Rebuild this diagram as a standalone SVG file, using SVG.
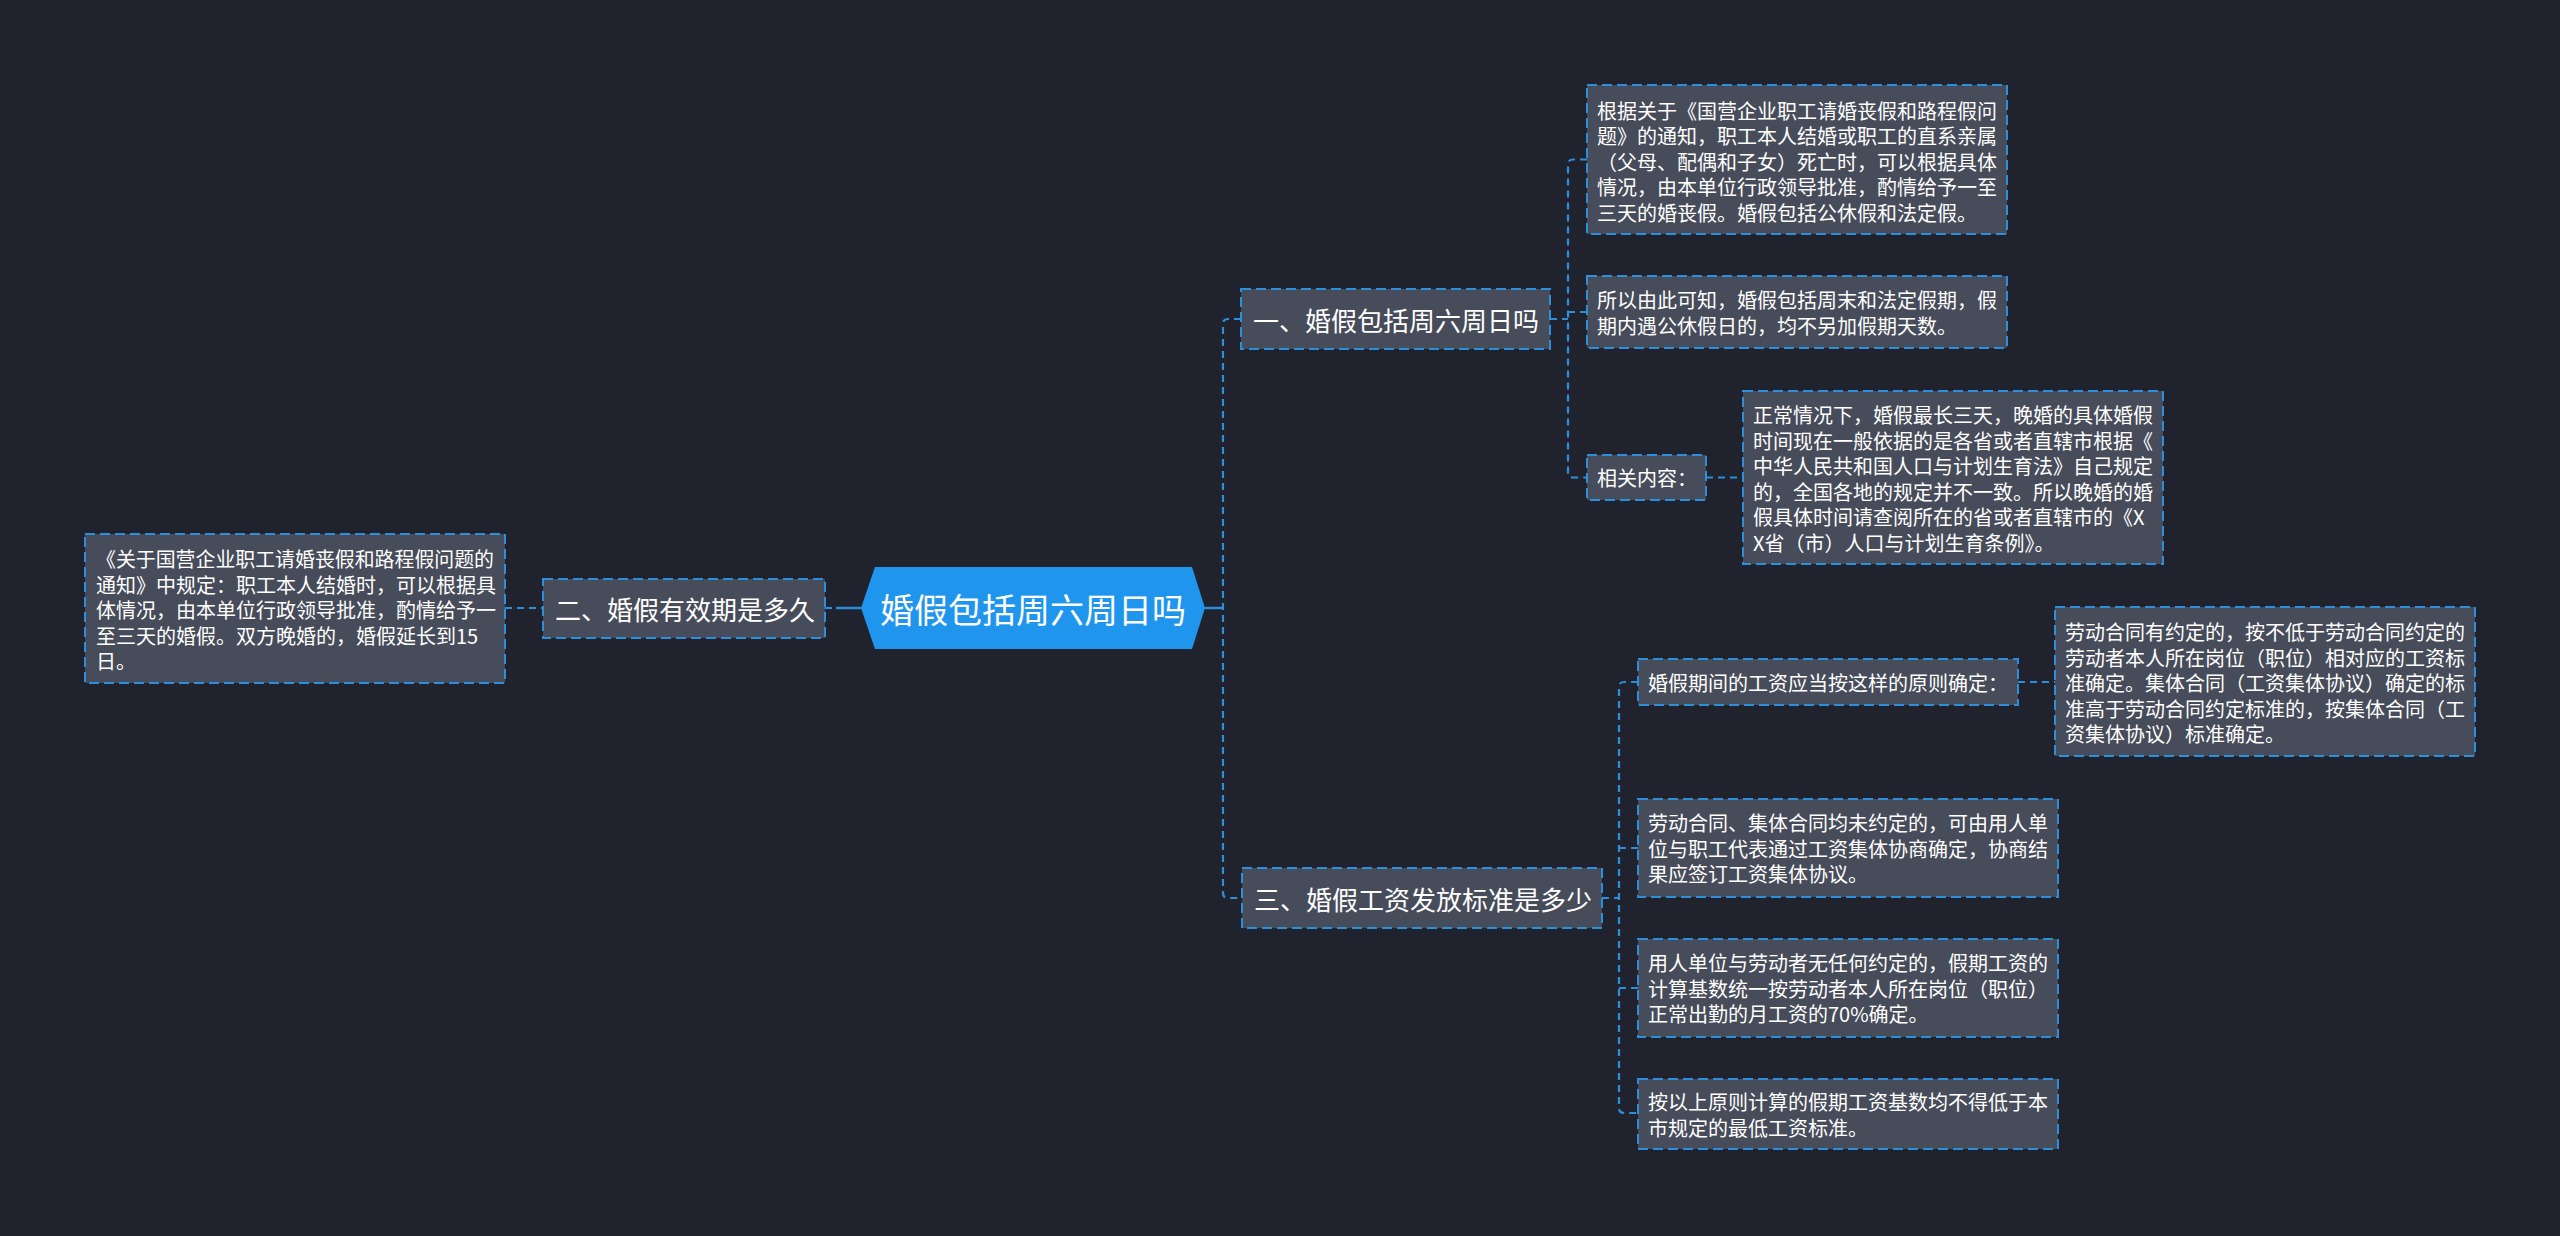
<svg xmlns="http://www.w3.org/2000/svg" width="2560" height="1236" viewBox="0 0 2560 1236">
<style>
.bg{fill:#20232e}
.box{fill:#474c5a;stroke:#2b8fdc;stroke-width:2;stroke-dasharray:10 5}
.conn{fill:none;stroke:#2b8fdc;stroke-width:2.2;stroke-dasharray:7 5}
.solid{fill:none;stroke:#2b8fdc;stroke-width:2.5}
.t{font-family:"Noto Sans CJK SC","Noto Sans",sans-serif;fill:#ffffff;dominant-baseline:central}
.leaf{font-size:20px}
.br{font-size:26px}
.root{font-size:34px}
</style>
<rect class="bg" x="0" y="0" width="2560" height="1236"/>

<g id="connectors">
  <path class="solid" d="M1205,608 L1223,608"/>
  <path class="conn" d="M1241,319 L1228,319 Q1223,319 1223,324 L1223,893 Q1223,898 1228,898 L1242,898"/>
  <path class="conn" d="M1550,319 L1568,319"/>
  <path class="conn" d="M1587,159.5 L1573,159.5 Q1568,159.5 1568,164.5 L1568,472.5 Q1568,477.5 1573,477.5 L1587,477.5"/>
  <path class="conn" d="M1568,312 L1587,312"/>
  <path class="conn" d="M1706,477.5 L1743,477.5"/>
  <path class="conn" d="M1602,898 L1619,898"/>
  <path class="conn" d="M1638,682 L1624,682 Q1619,682 1619,687 L1619,1108 Q1619,1113 1624,1113 L1638,1113"/>
  <path class="conn" d="M1619,848 L1638,848"/>
  <path class="conn" d="M1619,988 L1638,988"/>
  <path class="conn" d="M2018,682 L2055,682"/>
  <path class="conn" d="M505,608 L543,608"/>
  <path class="conn" d="M825,608 L836,608"/>
  <path class="solid" d="M836,608 L861,608"/>
</g>

<g id="root">
  <polygon points="861,608 875,567 1192,567 1205,608 1192,649 875,649" fill="#1f95ee"/>
  <text class="t root" x="1033" y="608" text-anchor="middle">婚假包括周六周日吗</text>
</g>

<g id="branch1">
  <rect class="box" x="1241" y="289" width="309" height="60"/>
  <text class="t br" x="1253" y="319">一、婚假包括周六周日吗</text>
</g>

<g id="branch2">
  <rect class="box" x="543" y="579" width="282" height="59"/>
  <text class="t br" x="555" y="608">二、婚假有效期是多久</text>
</g>

<g id="branch3">
  <rect class="box" x="1242" y="868" width="360" height="60"/>
  <text class="t br" x="1254" y="898">三、婚假工资发放标准是多少</text>
</g>

<g id="leafA">
  <rect class="box" x="1587" y="85" width="420" height="149"/>
  <text class="t leaf" x="1597" y="110">根据关于《国营企业职工请婚丧假和路程假问</text>
  <text class="t leaf" x="1597" y="135.5">题》的通知，职工本人结婚或职工的直系亲属</text>
  <text class="t leaf" x="1597" y="161">（父母、配偶和子女）死亡时，可以根据具体</text>
  <text class="t leaf" x="1597" y="186.5">情况，由本单位行政领导批准，酌情给予一至</text>
  <text class="t leaf" x="1597" y="212">三天的婚丧假。婚假包括公休假和法定假。</text>
</g>

<g id="leafB">
  <rect class="box" x="1587" y="276" width="420" height="72"/>
  <text class="t leaf" x="1597" y="299.5">所以由此可知，婚假包括周末和法定假期，假</text>
  <text class="t leaf" x="1597" y="325">期内遇公休假日的，均不另加假期天数。</text>
</g>

<g id="related">
  <rect class="box" x="1587" y="455" width="119" height="45"/>
  <text class="t leaf" x="1597" y="477.5">相关内容：</text>
</g>

<g id="leafC">
  <rect class="box" x="1743" y="391" width="420" height="173"/>
  <text class="t leaf" x="1753" y="414.5">正常情况下，婚假最长三天，晚婚的具体婚假</text>
  <text class="t leaf" x="1753" y="440">时间现在一般依据的是各省或者直辖市根据《</text>
  <text class="t leaf" x="1753" y="465.5">中华人民共和国人口与计划生育法》自己规定</text>
  <text class="t leaf" x="1753" y="491">的，全国各地的规定并不一致。所以晚婚的婚</text>
  <text class="t leaf" x="1753" y="516.5">假具体时间请查阅所在的省或者直辖市的《X</text>
  <text class="t leaf" x="1753" y="542">X省（市）人口与计划生育条例》。</text>
</g>

<g id="leaf2">
  <rect class="box" x="85" y="534" width="420" height="149"/>
  <text class="t leaf" x="96" y="558.5" textLength="398" lengthAdjust="spacingAndGlyphs">《关于国营企业职工请婚丧假和路程假问题的</text>
  <text class="t leaf" x="96" y="584">通知》中规定：职工本人结婚时，可以根据具</text>
  <text class="t leaf" x="96" y="609.5">体情况，由本单位行政领导批准，酌情给予一</text>
  <text class="t leaf" x="96" y="635">至三天的婚假。双方晚婚的，婚假延长到15</text>
  <text class="t leaf" x="96" y="660.5">日。</text>
</g>

<g id="principle">
  <rect class="box" x="1638" y="659" width="380" height="46"/>
  <text class="t leaf" x="1648" y="682">婚假期间的工资应当按这样的原则确定：</text>
</g>

<g id="leafD">
  <rect class="box" x="2055" y="607" width="420" height="149"/>
  <text class="t leaf" x="2065" y="631.5">劳动合同有约定的，按不低于劳动合同约定的</text>
  <text class="t leaf" x="2065" y="657">劳动者本人所在岗位（职位）相对应的工资标</text>
  <text class="t leaf" x="2065" y="682.5">准确定。集体合同（工资集体协议）确定的标</text>
  <text class="t leaf" x="2065" y="708">准高于劳动合同约定标准的，按集体合同（工</text>
  <text class="t leaf" x="2065" y="733.5">资集体协议）标准确定。</text>
</g>

<g id="leafE">
  <rect class="box" x="1638" y="799" width="420" height="98"/>
  <text class="t leaf" x="1648" y="822.5">劳动合同、集体合同均未约定的，可由用人单</text>
  <text class="t leaf" x="1648" y="848">位与职工代表通过工资集体协商确定，协商结</text>
  <text class="t leaf" x="1648" y="873.5">果应签订工资集体协议。</text>
</g>

<g id="leafF">
  <rect class="box" x="1638" y="939" width="420" height="98"/>
  <text class="t leaf" x="1648" y="962.5">用人单位与劳动者无任何约定的，假期工资的</text>
  <text class="t leaf" x="1648" y="988">计算基数统一按劳动者本人所在岗位（职位）</text>
  <text class="t leaf" x="1648" y="1013.5">正常出勤的月工资的70%确定。</text>
</g>

<g id="leafG">
  <rect class="box" x="1638" y="1079" width="420" height="70"/>
  <text class="t leaf" x="1648" y="1101.5">按以上原则计算的假期工资基数均不得低于本</text>
  <text class="t leaf" x="1648" y="1127">市规定的最低工资标准。</text>
</g>
</svg>
